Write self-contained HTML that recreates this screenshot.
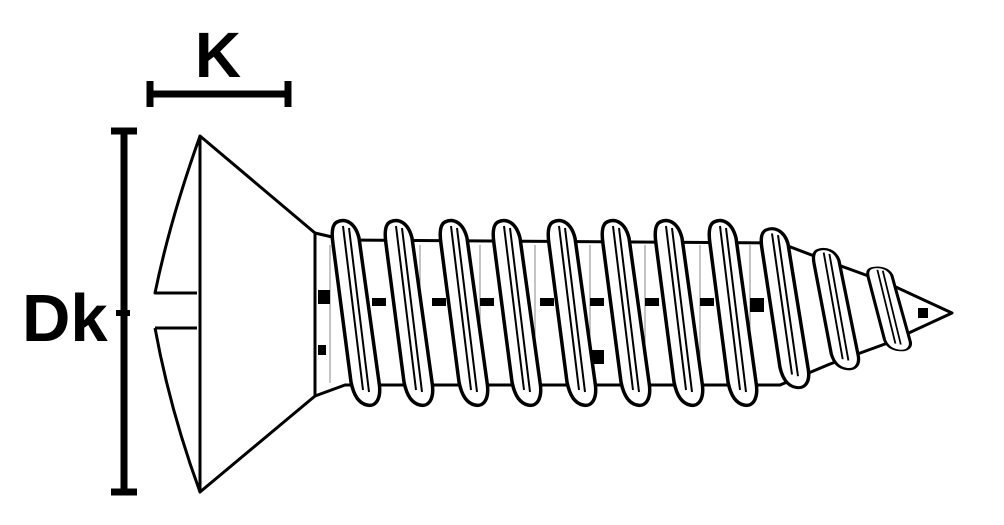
<!DOCTYPE html>
<html><head><style>body{margin:0;background:#fff}svg{display:block}</style></head><body>
<svg width="1004" height="525" viewBox="0 0 1004 525" xmlns="http://www.w3.org/2000/svg">
<defs>
<g id="th" fill="#fff" stroke="#000" stroke-width="3.5" stroke-linejoin="round">
<path d="M0,0 C8,-4 18,0 22,16 L42,160 C45,178 38,185 30,183 C20,181 16,170 14,160 L-4,22 C-6,8 -4,2 0,0 Z"/>
<path d="M6,4 L26,168 M12,6 L32,170" fill="none" stroke-width="2"/>
</g>
</defs>
<g stroke="#000" fill="none">
<line x1="148" y1="94" x2="290" y2="94" stroke-width="7"/>
<line x1="150" y1="81" x2="150" y2="107" stroke-width="7"/>
<line x1="288" y1="81" x2="288" y2="107" stroke-width="7"/>
<line x1="124" y1="130" x2="124" y2="494" stroke-width="7"/>
<line x1="111" y1="131" x2="137" y2="131" stroke-width="7"/>
<line x1="111" y1="492" x2="137" y2="492" stroke-width="7"/>
<line x1="116" y1="313" x2="130" y2="313" stroke-width="6"/>
</g>
<text x="218" y="77" font-family="Liberation Sans, sans-serif" font-weight="bold" font-size="64" text-anchor="middle">K</text>
<text x="22" y="341" font-family="Liberation Sans, sans-serif" font-weight="bold" font-size="67">Dk</text>
<g stroke="#000" stroke-width="3" fill="#fff" stroke-linejoin="round">
<path d="M200,136 Q170,220 155,293 L197,293 M155,328 L197,328 M155,328 Q170,410 200,492" fill="none"/>
<path d="M200,136 L315,233 L315,396 L200,492 Z"/>
<path d="M315,233 L345,240 L780,243 L830,262 L885,282 L952,313 L885,344 L830,364 L780,385 L345,385 L315,396 Z"/>
<g stroke-width="1" stroke="#888">
<line x1="330" y1="245" x2="330" y2="383"/><line x1="360" y1="245" x2="360" y2="383"/>
<line x1="420" y1="245" x2="420" y2="383"/><line x1="480" y1="245" x2="480" y2="383"/>
<line x1="535" y1="245" x2="535" y2="383"/><line x1="590" y1="245" x2="590" y2="383"/>
<line x1="645" y1="245" x2="645" y2="383"/><line x1="700" y1="245" x2="700" y2="383"/>
<line x1="750" y1="245" x2="750" y2="383"/>
</g>
<g fill="#000" stroke="none">
<rect x="318" y="290" width="12" height="14"/><rect x="372" y="298" width="14" height="8"/>
<rect x="432" y="298" width="14" height="8"/><rect x="480" y="298" width="14" height="8"/>
<rect x="540" y="298" width="14" height="8"/><rect x="590" y="298" width="14" height="8"/>
<rect x="645" y="298" width="14" height="8"/><rect x="700" y="298" width="14" height="8"/>
<rect x="750" y="298" width="14" height="14"/><rect x="918" y="308" width="10" height="10"/>
<rect x="318" y="345" width="8" height="10"/><rect x="590" y="350" width="14" height="14"/>
</g>
</g>
<use href="#th" transform="translate(337,222)"/>
<use href="#th" transform="translate(390,222)"/>
<use href="#th" transform="translate(445,222)"/>
<use href="#th" transform="translate(498,222)"/>
<use href="#th" transform="translate(553,222)"/>
<use href="#th" transform="translate(607,222)"/>
<use href="#th" transform="translate(660,222)"/>
<use href="#th" transform="translate(714,222)"/>
<use href="#th" transform="translate(766,230) scale(1,0.86)"/>
<use href="#th" transform="translate(818,250) scale(0.95,0.65)"/>
<use href="#th" transform="translate(872,268) scale(0.9,0.45)"/>
</svg>
</body></html>
